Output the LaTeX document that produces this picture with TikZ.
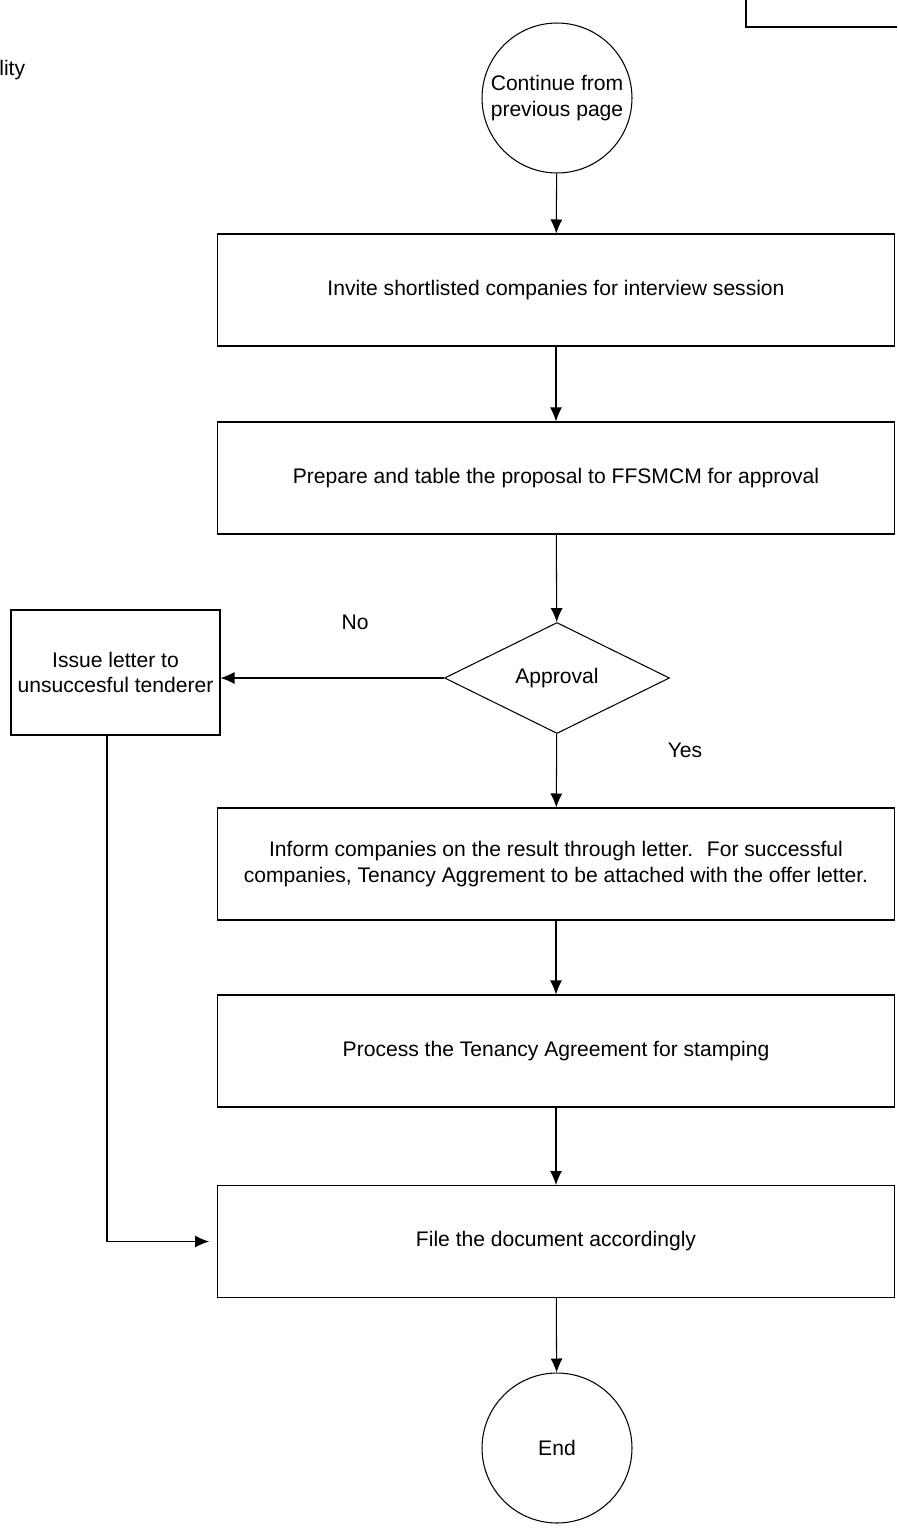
\documentclass[tikz,border=0pt]{standalone}
\usepackage{fontspec}
\setmainfont{Liberation Sans}
\usetikzlibrary{shapes.geometric,arrows.meta}

\tikzset{
  procbox/.style={draw, line width=0.6pt, minimum width=13.54cm, minimum height=2.24cm, align=center, inner sep=0pt},
  termcirc/.style={draw, line width=0.6pt, circle, minimum size=3cm, align=center, inner sep=0pt},
  decision/.style={draw, line width=0.6pt, diamond, minimum width=4.5cm, minimum height=2.22cm, inner sep=0pt},
  flow/.style={line width=0.6pt, -{Latex[length=0.28cm,width=0.24cm]}}
}

\begin{document}
\begin{tikzpicture}[x=0.02cm, y=-0.02cm, font=\fontsize{12}{14.4}\selectfont]
    \useasboundingbox (0,0) rectangle (897,1528);
    % Corner of the box cut off at the top
    \draw[line width=0.6pt] (746,0) -- (746,27) -- (897,27);
    \node[anchor=west, inner sep=0pt] (cut) at (-1,70) {lity};
    % Terminals and steps
    \node[termcirc] (start) at (557,98) {Continue from\\previous page};
    \node[procbox] (invite) at (556,290) {Invite shortlisted companies for interview session};
    \node[procbox] (table) at (556,478) {Prepare and table the proposal to FFSMCM for approval};
    \node[decision] (approval) at (557,678) {Approval};
    \node[procbox, minimum width=4.18cm, minimum height=2.5cm] (issue) at (115.5,672.5) {Issue letter to\\unsuccesful tenderer};
    \node[procbox] (inform) at (556,864) {Inform companies on the result through letter.~ For successful\\companies, Tenancy Aggrement to be attached with the offer letter.};
    \node[procbox] (stamp) at (556,1051) {Process the Tenancy Agreement for stamping};
    \node[procbox] (file) at (556,1241.5) {File the document accordingly};
    \node[termcirc] (end) at (557,1448) {End};
    % Branch labels
    \node (no) at (355,622) {No};
    \node (yes) at (685,750) {Yes};
    % Connectors
    \draw[flow] (start) -- (invite);
    \draw[flow] (invite) -- (table);
    \draw[flow] (table) -- (approval);
    \draw[flow] (approval.west) -- (approval.west -| issue.east);
    \draw[flow] (approval) -- (inform);
    \draw[flow] (inform) -- (stamp);
    \draw[flow] (stamp) -- (file);
    \draw[flow] (file) -- (end);
    \draw[flow] ([xshift=-0.17cm]issue.south) |- ([xshift=-0.16cm]file.west);
  \end{tikzpicture}
\end{document}
